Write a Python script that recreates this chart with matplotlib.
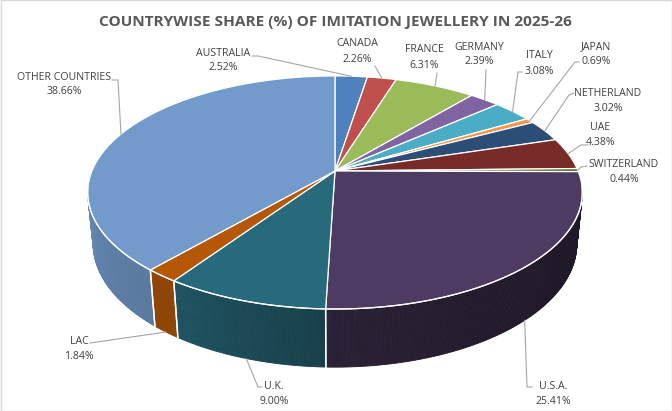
import numpy as np
import matplotlib
matplotlib.use("Agg")
import matplotlib.pyplot as plt
from matplotlib.colors import to_rgb
from matplotlib import font_manager

countries = ["AUSTRALIA", "CANADA", "FRANCE", "GERMANY", "ITALY", "JAPAN",
             "NETHERLAND", "UAE", "SWITZERLAND", "U.S.A.", "U.K.", "LAC",
             "OTHER COUNTRIES"]
shares = [2.52, 2.26, 6.31, 2.39, 3.08, 0.69, 3.02, 4.38, 0.44, 25.41, 9.00, 1.84, 38.66]
colors = ["#4F81BD", "#C0504D", "#9BBB59", "#8064A2", "#4BACC6", "#F79646",
          "#2C4D75", "#772C2A", "#5F7530", "#4D3B62", "#276A7C", "#B65708",
          "#729ACA"]
title = "COUNTRYWISE SHARE (%) OF IMITATION JEWELLERY IN 2025-26"

# label layout (pixel positions of the label block centre, leader start)
label_pos = {
    "AUSTRALIA": ((223, 53), [(252, 56), (258, 56)]),
    "CANADA": ((357, 44), [(375, 66)]),
    "FRANCE": ((424, 50), [(437, 73)]),
    "GERMANY": ((479, 47), [(486, 70)]),
    "ITALY": ((539, 56), [(522, 72), (518, 72)]),
    "JAPAN": ((596, 47), [(579, 62), (575, 62)]),
    "NETHERLAND": ((608, 93), [(574, 93), (569, 95)]),
    "UAE": ((600, 127), [(588, 145), (581, 145)]),
    "SWITZERLAND": ((624, 164), [(587, 166), (581, 167)]),
    "U.S.A.": ((553, 386), [(532, 387), (527, 387)]),
    "U.K.": ((274, 386), [(262, 387), (258, 387)]),
    "LAC": ((79, 341), [(90, 343)]),
    "OTHER COUNTRIES": ((64, 77), [(112, 80), (118, 80)]),
}

avail = {f.name for f in font_manager.fontManager.ttflist}
fam = [f for f in ["Liberation Sans Narrow", "Open Sans", "DejaVu Sans"] if f in avail]

W, H = 672, 411
fig = plt.figure(figsize=(W / 100, H / 100), dpi=100)
ax = fig.add_axes([0, 0, 1, 1])
ax.set_xlim(0, W)
ax.set_ylim(H, 0)
ax.axis("off")

# projection parameters (perspective view of a tilted disc)
cx, cy = 335.0, 171.0
alpha = np.deg2rad(27.0)
sa, ca = np.sin(alpha), np.cos(alpha)
Dist, fx, fy, depth = 4.83, 1174.0, 1197.6, 0.234


def proj(phi, z=0.0):
    x, y = np.cos(phi), np.sin(phi)
    v = y * sa + z * ca
    d = Dist + y * ca - z * sa
    return cx + fx * x / d, cy - fy * v / d


vals = np.array(shares)
frac = vals / vals.sum()
cum = np.concatenate([[0], np.cumsum(frac)])
# clockwise from 12 o'clock
phis = np.pi / 2 - 2 * np.pi * cum

shade_knots_deg = [190, 229, 236, 268, 269, 300, 350]
shade_knots_k = [0.88, 0.78, 0.78, 0.60, 0.55, 0.45, 0.40]
vis_lim = -1.0 / (Dist * ca)

# walls
for i in range(len(vals)):
    a0, a1 = phis[i], phis[i + 1]
    n = max(int(abs(a1 - a0) / np.deg2rad(0.5)) + 2, 3)
    aa = np.linspace(a0, a1, n)
    base = np.array(to_rgb(colors[i]))
    for j in range(n - 1):
        p, q = aa[j], aa[j + 1]
        if np.sin(p) > vis_lim + 0.02 and np.sin(q) > vis_lim + 0.02:
            continue
        mid = np.rad2deg((p + q) / 2) % 360
        k = np.interp(mid, shade_knots_deg, shade_knots_k)
        c = np.clip(base * k, 0, 1)
        x0, y0 = proj(p); x1, y1 = proj(q)
        x2, y2 = proj(q, -depth); x3, y3 = proj(p, -depth)
        ax.fill([x0, x1, x2, x3], [y0, y1, y2, y3], color=c, lw=0.6, ec=c, zorder=2)
    # white edges at wall boundaries
    for a in (a0, a1):
        if np.sin(a) < vis_lim:
            xa, ya = proj(a); xb, yb = proj(a, -depth)
            ax.plot([xa, xb], [ya, yb], color="white", lw=1.0, zorder=3)

# top faces
for i in range(len(vals)):
    a0, a1 = phis[i], phis[i + 1]
    n = max(int(abs(a1 - a0) / np.deg2rad(0.5)) + 2, 3)
    aa = np.linspace(a0, a1, n)
    xs, ys = proj(aa)
    px = np.concatenate([[cx], xs, [cx]])
    py = np.concatenate([[cy], ys, [cy]])
    ax.fill(px, py, color=colors[i], ec="white", lw=0.9, zorder=4)

# white rim on the front edge
aa = np.linspace(np.deg2rad(188), np.deg2rad(352), 300)
xs, ys = proj(aa)
ax.plot(xs, ys, color="white", lw=0.9, zorder=5)

# labels
for i, name in enumerate(countries):
    (tx, ty), lead = label_pos[name]
    mid = (phis[i] + phis[i + 1]) / 2
    if np.sin(mid) < vis_lim:
        ax_, ay_ = proj(mid, -depth)
    else:
        ax_, ay_ = proj(mid)
    pts = lead + [(ax_, ay_)]
    ax.plot([p[0] for p in pts], [p[1] for p in pts], color="#A6A6A6", lw=0.8, zorder=6)
    ax.text(tx, ty, name, ha="center", va="center", fontsize=7.6, color="#404040",
            family=fam, zorder=7)
    ax.text(tx, ty + 15, f"{shares[i]:.2f}%", ha="center", va="center", fontsize=7.6,
            color="#404040", family=fam, zorder=7)

ax.text(335, 22, title, ha="center", va="center", fontsize=11.1, fontweight="bold",
        color="#595959", family=fam, zorder=7)

# chart border
ax.add_patch(plt.Rectangle((0.5, 0.5), W - 1, H - 1, fill=False, ec="#D9D9D9", lw=1, zorder=8))

fig.savefig("out.png", dpi=100)
